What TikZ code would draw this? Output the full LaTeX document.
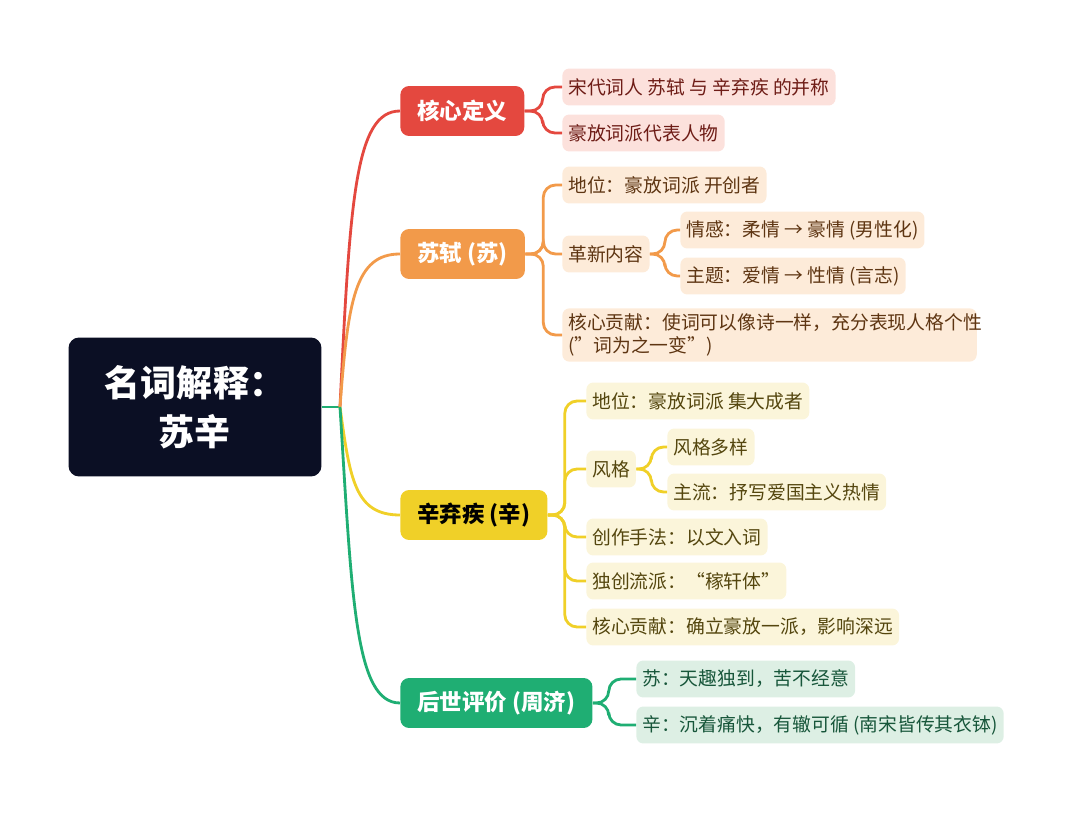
\documentclass[tikz,border=0pt]{standalone}
\usepackage{fontspec}
\setmainfont{Noto Sans CJK SC}
\usetikzlibrary{positioning}
\definecolor{rootc}{HTML}{0B0F24}
\definecolor{redc}{HTML}{E4483F}
\definecolor{redl}{HTML}{FCE1DC}
\definecolor{redt}{HTML}{6E1C16}
\definecolor{orac}{HTML}{F29A4A}
\definecolor{oral}{HTML}{FDEBD9}
\definecolor{orat}{HTML}{5E3512}
\definecolor{yelc}{HTML}{F0D028}
\definecolor{yell}{HTML}{FBF5DA}
\definecolor{yelt}{HTML}{54460E}
\definecolor{grnc}{HTML}{1FAE73}
\definecolor{grnl}{HTML}{DDEFE4}
\definecolor{grnt}{HTML}{17563A}
\tikzset{
  branch/.style={rounded corners=5pt, anchor=west, minimum height=1cm, inner xsep=0.34cm, font=\fontsize{12.8}{14}\selectfont\bfseries},
  leaf/.style={rounded corners=4pt, anchor=west, minimum height=0.74cm, inner xsep=0.12cm, inner ysep=0.1cm, font=\fontsize{10.7}{13.5}\selectfont, align=left},
  link/.style={line width=1.6pt, rounded corners=7pt}
}
\begin{document}
\begin{tikzpicture}[x=0.02cm,y=-0.02cm]
\useasboundingbox (0,0) rectangle (1080,814);

% root
\node[fill=rootc, rounded corners=6pt, minimum width=5.06cm, minimum height=2.78cm, text=white,
  font=\fontsize{20.5}{28}\selectfont\bfseries, align=center] (root) at (195,407) {名词解释：\\苏辛};
\coordinate (hub) at (340,407);
\draw[grnc, line width=1.6pt] (root.east) -- (hub);

% branches
\node[branch, fill=redc, text=white] (core) at (400,111) {核心定义};
\node[branch, fill=orac, text=white] (su) at (400,254) {苏轼 (苏)};
\node[branch, fill=yelc, text=black] (xin) at (400,515) {辛弃疾 (辛)};
\node[branch, fill=grnc, text=white] (eval) at (400,703) {后世评价 (周济)};

\draw[redc, line width=1.6pt] (hub) .. controls (350,200) and (355,111) .. (core.west);
\draw[orac, line width=1.6pt] (hub) .. controls (348,300) and (355,254) .. (su.west);
\draw[yelc, line width=1.6pt] (hub) .. controls (350,480) and (355,515) .. (xin.west);
\draw[grnc, line width=1.6pt] (hub) .. controls (352,600) and (355,703) .. (eval.west);

% core
\node[leaf, fill=redl, text=redt] (c1) at (562,87) {宋代词人 苏轼 与 辛弃疾 的并称};
\node[leaf, fill=redl, text=redt] (c2) at (562,133) {豪放词派代表人物};
\foreach \n in {c1,c2}
  \draw[redc, link] (core.east) -- ++(18,0) |- (\n.west);

% su
\node[leaf, fill=oral, text=orat] (s1) at (562,185) {地位：豪放词派 开创者};
\node[leaf, fill=oral, text=orat] (s2) at (562,254) {革新内容};
\node[leaf, fill=oral, text=orat] (s21) at (680,230) {情感：柔情 → 豪情 (男性化)};
\node[leaf, fill=oral, text=orat] (s22) at (680,276) {主题：爱情 → 性情 (言志)};
\node[leaf, fill=oral, text=orat, text width=8.05cm] (s3) at (562,335) {核心贡献：使词可以像诗一样，充分表现人格个性 (”词为之一变”)};
\foreach \n in {s1,s2,s3}
  \draw[orac, link] (su.east) -- ++(18,0) |- (\n.west);
\foreach \n in {s21,s22}
  \draw[orac, link] (s2.east) -- ++(15,0) |- (\n.west);

% xin
\node[leaf, fill=yell, text=yelt] (x1) at (586,401) {地位：豪放词派 集大成者};
\node[leaf, fill=yell, text=yelt] (x2) at (586,469) {风格};
\node[leaf, fill=yell, text=yelt] (x21) at (667,447) {风格多样};
\node[leaf, fill=yell, text=yelt] (x22) at (667,492) {主流：抒写爱国主义热情};
\node[leaf, fill=yell, text=yelt] (x3) at (586,537) {创作手法：以文入词};
\node[leaf, fill=yell, text=yelt] (x4) at (586,581) {独创流派：“稼轩体”};
\node[leaf, fill=yell, text=yelt] (x5) at (586,627) {核心贡献：确立豪放一派，影响深远};
\foreach \n in {x1,x2,x3,x4,x5}
  \draw[yelc, link] (xin.east) -- ++(17,0) |- (\n.west);
\foreach \n in {x21,x22}
  \draw[yelc, link] (x2.east) -- ++(15,0) |- (\n.west);

% eval
\node[leaf, fill=grnl, text=grnt] (e1) at (636,679) {苏：天趣独到，苦不经意};
\node[leaf, fill=grnl, text=grnt] (e2) at (636,725) {辛：沉着痛快，有辙可循 (南宋皆传其衣钵)};
\foreach \n in {e1,e2}
  \draw[grnc, link] (eval.east) -- ++(16,0) |- (\n.west);
\end{tikzpicture}
\end{document}
